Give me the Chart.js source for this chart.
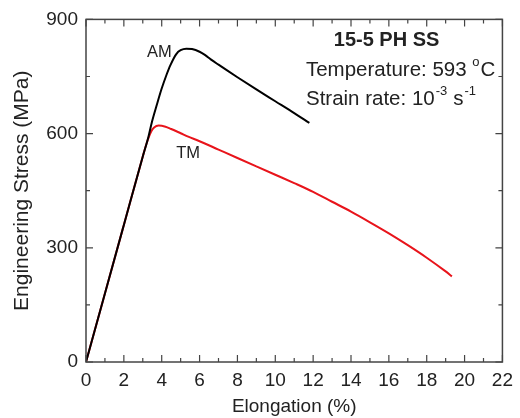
<!DOCTYPE html>
<html><head><meta charset="utf-8">
<script src="https://cdn.jsdelivr.net/npm/chart.js@4.4.1/dist/chart.umd.min.js"></script>
<style>html,body{margin:0;padding:0;background:#fff;}#wrap{width:520px;height:418px;}</style>
</head><body><div id="wrap"><canvas id="c" width="520" height="418"></canvas></div>
<script>
const amStrain = [0, 1, 2, 3, 3.3, 3.47, 3.75, 3.99, 4.25, 4.46, 4.77, 5.0, 5.3, 5.6, 6.0, 6.3, 6.59, 7, 8, 9, 10, 11, 11.8];
const amStress = [0, 180, 360, 540, 592, 628, 677, 717, 754, 780, 809, 819, 823, 822, 815, 806, 795, 781, 748, 716, 685, 654, 628];
const tmStrain = [0, 1, 2, 3, 3.2, 3.45, 3.6, 3.84, 4.2, 4.5, 5, 5.4, 6, 7, 8, 9, 10, 11, 12, 13, 14, 15, 16, 17, 18, 19, 19.33];
const tmStress = [0, 180, 360, 540, 574, 606, 616, 621, 618, 612, 601, 592, 580, 558, 536, 514, 492, 470, 447, 421, 395, 367, 338, 307, 274, 238, 225];
const xTicks = [0, 2, 4, 6, 8, 10, 12, 14, 16, 18, 20, 22];
const yTicks = [0, 300, 600, 900];

const FONT = 'Liberation Sans, Arial, sans-serif';
const TXT = '#222';

function pts(xs, ys){ return xs.map((x,i)=>({x:x, y:ys[i]})); }

const deco = {
  id: 'deco',
  afterDraw(chart){
    const {ctx, chartArea:a, scales:{x, y}} = chart;
    ctx.save();
    ctx.strokeStyle = '#444';
    ctx.lineWidth = 1.5;
    ctx.strokeRect(a.left, a.top, a.right - a.left, a.bottom - a.top);
    ctx.lineWidth = 1.2;
    ctx.beginPath();
    for (let v = 0; v <= 22; v += 1) {
      const px = x.getPixelForValue(v);
      const L = (v % 2 === 0) ? 7 : 4;
      ctx.moveTo(px, a.bottom); ctx.lineTo(px, a.bottom - L);
      ctx.moveTo(px, a.top); ctx.lineTo(px, a.top + L);
    }
    for (let v = 0; v <= 900; v += 150) {
      const py = y.getPixelForValue(v);
      const L = (v % 300 === 0) ? 7 : 4;
      ctx.moveTo(a.left, py); ctx.lineTo(a.left + L, py);
      ctx.moveTo(a.right, py); ctx.lineTo(a.right - L, py);
    }
    ctx.stroke();

    ctx.fillStyle = TXT;
    ctx.textBaseline = 'middle';
    ctx.font = '16.5px ' + FONT;
    ctx.textAlign = 'left';
    ctx.fillText('AM', x.getPixelForValue(3.22), y.getPixelForValue(814));
    ctx.fillText('TM', x.getPixelForValue(4.77), y.getPixelForValue(548));

    ctx.font = 'bold 20px ' + FONT;
    ctx.textAlign = 'center';
    ctx.fillText('15-5 PH SS', x.getPixelForValue(15.88), y.getPixelForValue(845));

    ctx.textAlign = 'left';
    const big = '20.5px ' + FONT, sml = '13px ' + FONT;
    ctx.font = big;
    let tx = x.getPixelForValue(11.62);
    let ty = y.getPixelForValue(767);
    let s1 = 'Temperature: 593 ';
    ctx.fillText(s1, tx, ty);
    let w = ctx.measureText(s1).width;
    ctx.font = sml;
    ctx.fillText('o', tx + w, ty - 8);
    let w2 = ctx.measureText('o').width;
    ctx.font = big;
    ctx.fillText('C', tx + w + w2 + 1, ty);

    ty = y.getPixelForValue(691);
    let s2 = 'Strain rate: 10';
    ctx.fillText(s2, tx, ty);
    w = ctx.measureText(s2).width;
    ctx.font = sml;
    ctx.fillText('-3', tx + w + 1, ty - 8);
    w2 = ctx.measureText('-3').width;
    ctx.font = big;
    ctx.fillText('s', tx + w + w2 + 7, ty);
    let w3 = ctx.measureText('s').width;
    ctx.font = sml;
    ctx.fillText('-1', tx + w + w2 + 7 + w3 + 1, ty - 8);
    ctx.restore();
  }
};

new Chart(document.getElementById('c'), {
  type: 'scatter',
  data: {
    datasets: [
      { label: 'AM', data: pts(amStrain, amStress), showLine: true, borderColor: '#000', borderWidth: 2, pointRadius: 0, cubicInterpolationMode: 'monotone' },
      { label: 'TM', data: pts(tmStrain, tmStress), showLine: true, borderColor: '#e8141b', borderWidth: 2, pointRadius: 0, cubicInterpolationMode: 'monotone' }
    ]
  },
  options: {
    responsive: false,
    animation: false,
    layout: { padding: { top: 17, right: 10, left: 0, bottom: 0 } },
    plugins: { legend: { display: false }, tooltip: { enabled: false } },
    scales: {
      x: {
        type: 'linear', min: 0, max: 22,
        afterBuildTicks(s){ s.ticks = xTicks.map(v => ({value: v})); },
        afterFit(s){ s.height = 56; },
        grid: { display: false, drawTicks: false },
        border: { display: false },
        ticks: { padding: 7, color: TXT, font: { family: FONT, size: 19 }, maxRotation: 0, autoSkip: false },
        title: { display: true, text: 'Elongation (%)', color: TXT, font: { family: FONT, size: 19 }, padding: { top: 0, bottom: 0 } }
      },
      y: {
        type: 'linear', min: 0, max: 900,
        afterBuildTicks(s){ s.ticks = yTicks.map(v => ({value: v})); },
        afterFit(s){ s.width = 86; },
        grid: { display: false, drawTicks: false },
        border: { display: false },
        ticks: { padding: 8, color: TXT, font: { family: FONT, size: 19 } },
        title: { display: true, text: 'Engineering Stress (MPa)', color: TXT, font: { family: FONT, size: 21 }, padding: { top: 10, bottom: 0 } }
      }
    }
  },
  plugins: [deco]
});
</script></body></html>
